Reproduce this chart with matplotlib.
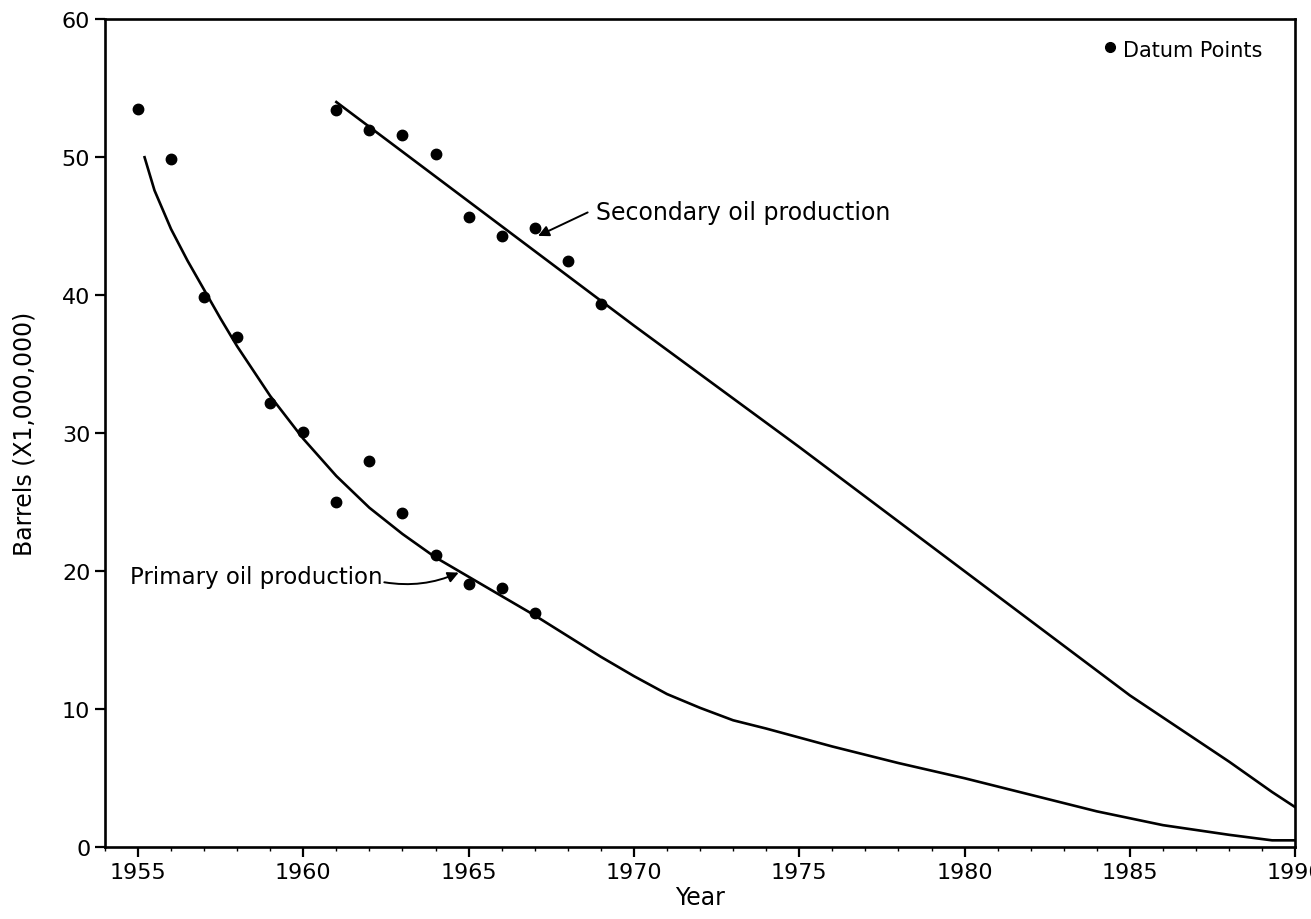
import numpy as np
import matplotlib.pyplot as plt

# datum points
prim_years = [1955, 1956, 1957, 1958, 1959, 1960, 1961, 1962, 1963, 1964, 1965, 1966, 1967]
prim_vals = [53.5, 49.9, 39.9, 37.0, 32.2, 30.1, 25.0, 28.0, 24.2, 21.2, 19.1, 18.8, 17.0]
sec_years = [1961, 1962, 1963, 1964, 1965, 1966, 1967, 1968, 1969]
sec_vals = [53.4, 52.0, 51.6, 50.2, 45.7, 44.3, 44.9, 42.5, 39.4]

# fitted curves
prim_curve_x = [1955.2, 1955.5, 1956, 1956.5, 1957, 1957.5, 1958, 1959, 1960, 1961, 1962, 1963,
                1964, 1965, 1966, 1967, 1968, 1969, 1970, 1971, 1972, 1973, 1974, 1976, 1978,
                1980, 1982, 1984, 1986, 1988, 1989.3, 1990]
prim_curve_y = [50.0, 47.6, 44.8, 42.5, 40.4, 38.3, 36.3, 32.7, 29.6, 26.9, 24.6, 22.7,
                21.0, 19.6, 18.2, 16.8, 15.3, 13.8, 12.4, 11.1, 10.1, 9.2, 8.6, 7.3, 6.1,
                5.0, 3.8, 2.6, 1.6, 0.9, 0.5, 0.5]
sec_curve_x = [1961, 1965, 1970, 1975, 1980, 1982, 1985, 1988, 1989.3, 1990]
sec_curve_y = [54.0, 46.8, 37.8, 29.0, 20.0, 16.4, 11.0, 6.2, 4.0, 2.9]

plt.rcParams['font.family'] = 'DejaVu Sans'
fig = plt.figure(figsize=(13.11, 9.2), dpi=100)
ax = fig.add_axes([0.080, 0.078, 0.908, 0.900])

ax.plot(prim_curve_x, prim_curve_y, color='black', lw=1.9)
ax.plot(sec_curve_x, sec_curve_y, color='black', lw=1.9)
ax.plot(prim_years, prim_vals, 'ko', markersize=7.5)
ax.plot(sec_years, sec_vals, 'ko', markersize=7.5)

ax.set_xlim(1954, 1990)
ax.set_ylim(0, 60)
ax.set_xticks(np.arange(1955, 1991, 5))
ax.set_xticks(np.arange(1954, 1991, 1), minor=True)
ax.set_yticks(np.arange(0, 61, 10))
ax.tick_params(axis='both', labelsize=16, width=1.6, length=7)
ax.tick_params(axis='x', which='minor', length=3, width=1)
for s in ax.spines.values():
    s.set_linewidth(1.9)

ax.set_xlabel('Year', fontsize=17, labelpad=2)
ax.set_ylabel('Barrels (X1,000,000)', fontsize=17, labelpad=18)

# annotations
ax.text(1954.75, 19.6, 'Primary oil production', fontsize=16.5, va='center', ha='left')
ax.annotate('', xy=(1964.7, 19.9), xytext=(1962.45, 19.2),
            arrowprops=dict(arrowstyle='-|>', color='black', lw=1.4, mutation_scale=16,
                            connectionstyle='arc3,rad=0.15', shrinkA=0, shrinkB=0))
ax.text(1968.85, 46.0, 'Secondary oil production', fontsize=17, va='center', ha='left')
ax.annotate('', xy=(1967.1, 44.3), xytext=(1968.6, 46.0),
            arrowprops=dict(arrowstyle='-|>', color='black', lw=1.4, mutation_scale=16,
                            shrinkA=0, shrinkB=0))

ax.plot([1984.4], [58.0], 'ko', markersize=7)
ax.text(1984.8, 57.8, 'Datum Points', fontsize=15, va='center', ha='left')

fig.savefig('out.png', dpi=100)
